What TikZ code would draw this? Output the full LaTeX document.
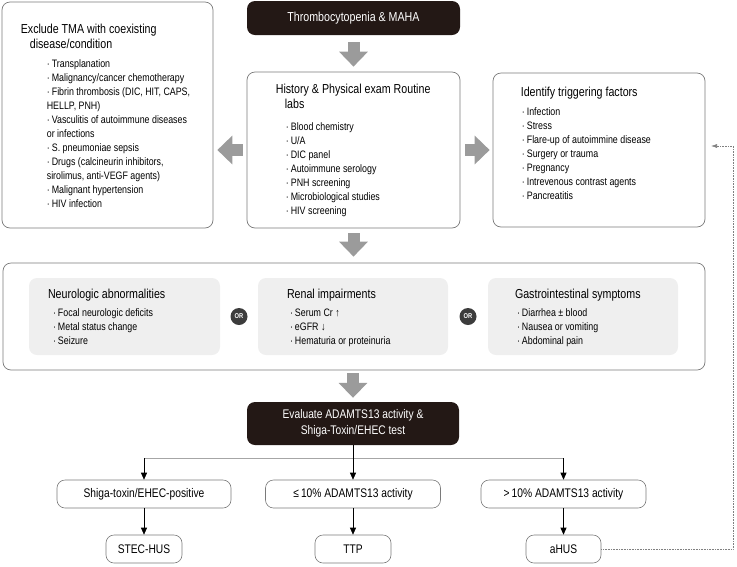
\documentclass[tikz,border=0pt]{standalone}
\usepackage{fontspec}
\setmainfont{Liberation Sans}[FakeStretch=0.82]
\usepackage{tikz}
\usetikzlibrary{
    positioning,
    arrows.meta,
    calc
}
\usepackage{xcolor}

\definecolor{darkfill}{HTML}{231815}
\definecolor{blockgray}{HTML}{9B9B9B}
\definecolor{framegray}{HTML}{7A7A7A}
\definecolor{panelgray}{HTML}{EFEFEF}
\definecolor{orgray}{HTML}{3C3C3C}

\newcommand\headfont{\fontsize{13}{15}\selectfont}
\newcommand\listfont{\fontsize{10.8}{14}\selectfont}
\newcommand\boxfont{\fontsize{12.5}{16}\selectfont}
\newcommand\itm{\makebox[5pt][l]{·}}

\begin{document}
\begin{tikzpicture}[
    x=1pt, y=-1pt,
    frame/.style={
        draw=framegray, line width=0.7pt,
        rounded corners=8pt, inner sep=0
    },
    blackbox/.style={
        fill=darkfill, text=white, rounded corners=8pt,
        font=\boxfont, align=center, inner sep=0
    },
    panel/.style={fill=panelgray, rounded corners=8pt, inner sep=0},
    result/.style={
        draw=framegray, fill=white, line width=0.6pt,
        rounded corners=8pt, font=\boxfont, inner sep=0
    },
    ornode/.style={
        circle, fill=orgray, text=white, minimum size=17pt,
        inner sep=0, font=\fontsize{7}{8}\selectfont\bfseries
    },
    head/.style={font=\headfont, align=left, inner sep=0},
    items/.style={font=\listfont, align=left, inner sep=0},
    bigarrow/.style={line width=12pt, draw=blockgray, -{Triangle[width=28pt,length=15pt]}},
    arrow/.style={line width=0.6pt, -{Triangle[length=7pt,width=6pt]}},
    fback/.style={densely dotted, draw=gray, line width=0.6pt, -{Latex[length=6pt,width=4pt]}}
]
\useasboundingbox (0,0) rectangle (737,566);

% Top row
\node[blackbox, font=\headfont, minimum width=213pt, minimum height=34pt] (start) at (353.5,18) {Thrombocytopenia \& MAHA};
\node[frame, minimum width=211pt, minimum height=226pt] (excl) at (107.5,115) {};
\node[frame, minimum width=213pt, minimum height=156pt] (hist) at (353.5,150) {};
\node[frame, minimum width=212pt, minimum height=154pt] (trig) at (599,150) {};

% Box texts
\node[head, below right=22pt and 19pt of excl.north west] (exclhead) {Exclude TMA with coexisting\\\hspace*{9pt}disease/condition};
\node[items, below right=58pt and 45pt of excl.north west] (excllist) {%
\itm Transplanation\\
\itm Malignancy/cancer chemotherapy\\
\itm Fibrin thrombosis (DIC, HIT, CAPS,\\
HELLP, PNH)\\
\itm Vasculitis of autoimmune diseases\\
or infections\\
\itm S. pneumoniae sepsis\\
\itm Drugs (calcineurin inhibitors,\\
sirolimus, anti-VEGF agents)\\
\itm Malignant hypertension\\
\itm HIV infection};

\node[head, below right=12pt and 29pt of hist.north west] (histhead) {History \& Physical exam Routine\\\hspace*{9pt}labs};
\node[items, below right=51pt and 39pt of hist.north west] (histlist) {%
\itm Blood chemistry\\
\itm U/A\\
\itm DIC panel\\
\itm Autoimmune serology\\
\itm PNH screening\\
\itm Microbiological studies\\
\itm HIV screening};

\node[head, below right=14pt and 28pt of trig.north west] (trighead) {Identify triggering factors};
\node[items, below right=35pt and 29pt of trig.north west] (triglist) {%
\itm Infection\\
\itm Stress\\
\itm Flare-up of autoimmine disease\\
\itm Surgery or trauma\\
\itm Pregnancy\\
\itm Intrevenous contrast agents\\
\itm Pancreatitis};

% Clinical signs
\node[frame, minimum width=702pt, minimum height=107pt] (signs) at (354,316.5) {};
\node[panel, minimum width=191pt, minimum height=77pt] (neuro) at (124.5,316.5) {};
\node[panel, minimum width=190pt, minimum height=77pt] (renal) at (353,316.5) {};
\node[panel, minimum width=190pt, minimum height=77pt] (gastro) at (583,316.5) {};
\node[ornode] (or1) at ($(neuro.east)!0.5!(renal.west)$) {OR};
\node[ornode] (or2) at ($(renal.east)!0.5!(gastro.west)$) {OR};

\node[head, below right=11pt and 19pt of neuro.north west] (neurohead) {Neurologic abnormalities};
\node[items, below right=31pt and 24pt of neuro.north west] (neurolist) {%
\itm Focal neurologic deficits\\
\itm Metal status change\\
\itm Seizure};
\node[head, below right=11pt and 29pt of renal.north west] (renalhead) {Renal impairments};
\node[items, below right=31pt and 32pt of renal.north west] (renallist) {%
\itm Serum Cr ↑\\
\itm eGFR ↓\\
\itm Hematuria or proteinuria};
\node[head, below right=11pt and 27pt of gastro.north west] (gastrohead) {Gastrointestinal symptoms};
\node[items, below right=31pt and 29pt of gastro.north west] (gastrolist) {%
\itm Diarrhea ± blood\\
\itm Nausea or vomiting\\
\itm Abdominal pain};

% Testing and results
\node[blackbox, minimum width=212pt, minimum height=43pt] (eval) at (353,423.5) {Evaluate ADAMTS13 activity \&\\Shiga-Toxin/EHEC test};
\node[result, minimum width=174pt, minimum height=28pt] (shiga) at (144,494) {Shiga-toxin/EHEC-positive};
\node[result, minimum width=175pt, minimum height=28pt] (le10) at (353,494) {≤\,10\% ADAMTS13 activity};
\node[result, minimum width=165pt, minimum height=28pt] (gt10) at (563.5,494) {>\,10\% ADAMTS13 activity};
\node[result, minimum width=76pt, minimum height=28pt] (stec) at (144,549) {STEC-HUS};
\node[result, minimum width=76pt, minimum height=28pt] (ttp) at (353,549) {TTP};
\node[result, minimum width=75pt, minimum height=28pt] (ahus) at (563.5,549) {aHUS};

% Block arrows
\draw[bigarrow, shorten <=7pt, shorten >=5pt] (start) -- (hist);
\draw[bigarrow, shorten <=4pt, shorten >=4pt] (hist.west) -- (hist.west -| excl.east);
\draw[bigarrow, shorten <=5pt, shorten >=3pt] (hist.east) -- (hist.east -| trig.west);
\draw[bigarrow, shorten <=5pt, shorten >=6pt] (hist.south) -- (hist.south |- signs.north);
\draw[bigarrow, shorten <=3pt, shorten >=4pt] (signs.south -| eval.north) -- (eval.north);

% Branches
\coordinate (split) at ($(eval.south)+(0,13)$);
\draw[draw=gray!70, line width=0.8pt] (split -| shiga.north) -- (split -| gt10.north);
\draw[arrow] (eval) -- (le10);
\draw[arrow] (split -| shiga.north) -- (shiga);
\draw[arrow] (split -| gt10.north) -- (gt10);
\draw[arrow] (shiga) -- (stec);
\draw[arrow] (le10) -- (ttp);
\draw[arrow] (gt10) -- (ahus);

% Feedback to triggering factors
\coordinate (fbturn) at (733,146);
\coordinate (fbend) at (711,146);
\draw[fback] (ahus.east) -| (fbturn) -- (fbend);

\end{tikzpicture}
\end{document}
